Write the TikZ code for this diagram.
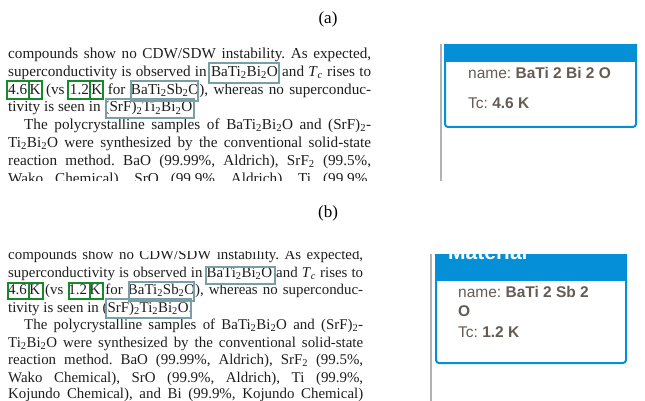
\documentclass[tikz,border=0pt]{standalone}
\usepackage{fontspec}
\setmainfont{Liberation Serif}
\newfontfamily\cardfont{Liberation Sans}
\definecolor{boxblue}{RGB}{122,158,166}
\definecolor{boxgreen}{RGB}{22,138,42}
\definecolor{cardblue}{RGB}{4,143,214}
\definecolor{cardtext}{RGB}{100,92,84}
\definecolor{rulegray}{RGB}{178,178,178}
\definecolor{ink}{RGB}{30,30,30}
\newcommand\sbs[1]{\textsubscript{#1}}
\newcommand\Tc{\textit{T}\textsubscript{\textit{c}}}
\frenchspacing
\begin{document}
\begin{tikzpicture}[x=1pt,y=-1pt,
  txt/.style={anchor=base west,inner sep=0pt,text=ink},
  lab/.style={anchor=base,inner sep=0pt,font=\fontsize{17}{20}\selectfont},
  formbox/.style={draw=boxblue,line width=1.4pt},
  numbox/.style={draw=boxgreen,line width=1.5pt},
  cardtxt/.style={anchor=base west,inner sep=0pt,text=cardtext,font=\cardfont\fontsize{15.5}{18}\selectfont},
  vrule/.style={draw=rulegray,line width=1.6pt}]
\useasboundingbox (0,0) rectangle (645,401);
\fill[white] (0,0) rectangle (645,401);

% labels
\node[lab] (la) at (328,24) {(a)};
\node[lab] (lb) at (328,217) {(b)};

% ---------- panel (a) text ----------
\begin{scope}
\clip (0,40) rectangle (420,180);
\begin{scope}[every node/.style={txt,font=\fontsize{15.2}{17}\selectfont}]
\node (a1) at (8,58.5) {\makebox[363pt][s]{compounds show no CDW/SDW instability. As expected,}};
\node (a2) at (8,76.3) {\makebox[363pt][s]{superconductivity is observed in BaTi\sbs2Bi\sbs2O and \Tc{} rises to}};
\node (a3) at (8,94.1) {\makebox[363pt][s]{4.6\,K (vs 1.2\,K for BaTi\sbs2Sb\sbs2O), whereas no superconduc-}};
\node (a4) at (8,111.9) {tivity is seen in (SrF)\sbs2Ti\sbs2Bi\sbs2O.};
\node (a5) at (24,129.7) {\makebox[347pt][s]{The polycrystalline samples of BaTi\sbs2Bi\sbs2O and (SrF)\sbs2-}};
\node (a6) at (8,147.5) {\makebox[363pt][s]{Ti\sbs2Bi\sbs2O were synthesized by the conventional solid-state}};
\node (a7) at (8,165.3) {\makebox[363pt][s]{reaction method. BaO (99.99\%, Aldrich), SrF\sbs2 (99.5\%,}};
\node (a8) at (8,183.1) {\makebox[363pt][s]{Wako Chemical), SrO (99.9\%, Aldrich), Ti (99.9\%,}};
\end{scope}
\end{scope}
% boxes (a)
\draw[formbox] (209,63) rectangle (279,83);
\draw[formbox] (131,81) rectangle (198,101);
\draw[formbox] (106,99) rectangle (194,118);
\draw[numbox] (7,81) rectangle (29,99);
\draw[numbox] (29,81) rectangle (42,99);
\draw[numbox] (68,81) rectangle (90,99);
\draw[numbox] (90,81) rectangle (103,99);

% ---------- panel (a) card ----------
\draw[vrule] (441,44) -- (441,181);
\fill[white] (445,62) rectangle (636,127);
\draw[cardblue,line width=2pt,rounded corners=3pt] (445,44) -- (445,127) -- (636,127) -- (636,44);
\fill[cardblue] (444,44) rectangle (637,62);
\node[cardtxt] (an) at (468,78.5) {name: \textbf{BaTi 2 Bi 2 O}};
\node[cardtxt] (at) at (468,109) {Tc: \textbf{4.6 K}};

% ---------- panel (b) text ----------
\begin{scope}
\clip (0,251.5) rectangle (420,401);
\begin{scope}[every node/.style={txt,font=\fontsize{14.9}{17}\selectfont}]
\node (b1) at (8,259.5) {\makebox[355pt][s]{compounds show no CDW/SDW instability. As expected,}};
\node (b2) at (8,277) {\makebox[355pt][s]{superconductivity is observed in BaTi\sbs2Bi\sbs2O and \Tc{} rises to}};
\node (b3) at (8,294.5) {\makebox[355pt][s]{4.6\,K (vs 1.2\,K for BaTi\sbs2Sb\sbs2O), whereas no superconduc-}};
\node (b4) at (8,312) {tivity is seen in (SrF)\sbs2Ti\sbs2Bi\sbs2O.};
\node (b5) at (24,329.5) {\makebox[339pt][s]{The polycrystalline samples of BaTi\sbs2Bi\sbs2O and (SrF)\sbs2-}};
\node (b6) at (8,347) {\makebox[355pt][s]{Ti\sbs2Bi\sbs2O were synthesized by the conventional solid-state}};
\node (b7) at (8,364.5) {\makebox[355pt][s]{reaction method. BaO (99.99\%, Aldrich), SrF\sbs2 (99.5\%,}};
\node (b8) at (8,382) {\makebox[355pt][s]{Wako Chemical), SrO (99.9\%, Aldrich), Ti (99.9\%,}};
\node (b9) at (8,398.5) {\makebox[355pt][s]{Kojundo Chemical), and Bi (99.9\%, Kojundo Chemical)}};
\end{scope}
\end{scope}
% boxes (b)
\draw[formbox] (206,267) rectangle (275,284);
\draw[formbox] (129,282) rectangle (194,301);
\draw[formbox] (106,299) rectangle (191,318);
\draw[numbox] (8,283) rectangle (29,299);
\draw[numbox] (29,283) rectangle (43,299);
\draw[numbox] (69,283) rectangle (90,299);
\draw[numbox] (90,283) rectangle (103,299);

% ---------- panel (b) card ----------
\draw[vrule] (431,254) -- (431,401);
\fill[white] (436,281) rectangle (626,363);
\draw[cardblue,line width=2pt,rounded corners=3pt] (436,254) -- (436,363) -- (626,363) -- (626,254);
\begin{scope}
\clip (430,254) rectangle (640,290);
\fill[cardblue] (435,254) rectangle (627,281);
\node[anchor=base west,inner sep=0pt,text=white,font=\cardfont\bfseries\fontsize{21}{24}\selectfont] (bh) at (448,259.5) {Material};
\end{scope}
\node[cardtxt] (bn) at (458,297) {name: \textbf{BaTi 2 Sb 2}};
\node[cardtxt] (bo) at (458,316) {\textbf{O}};
\node[cardtxt] (bt) at (458,337) {Tc: \textbf{1.2 K}};
\end{tikzpicture}
\end{document}
